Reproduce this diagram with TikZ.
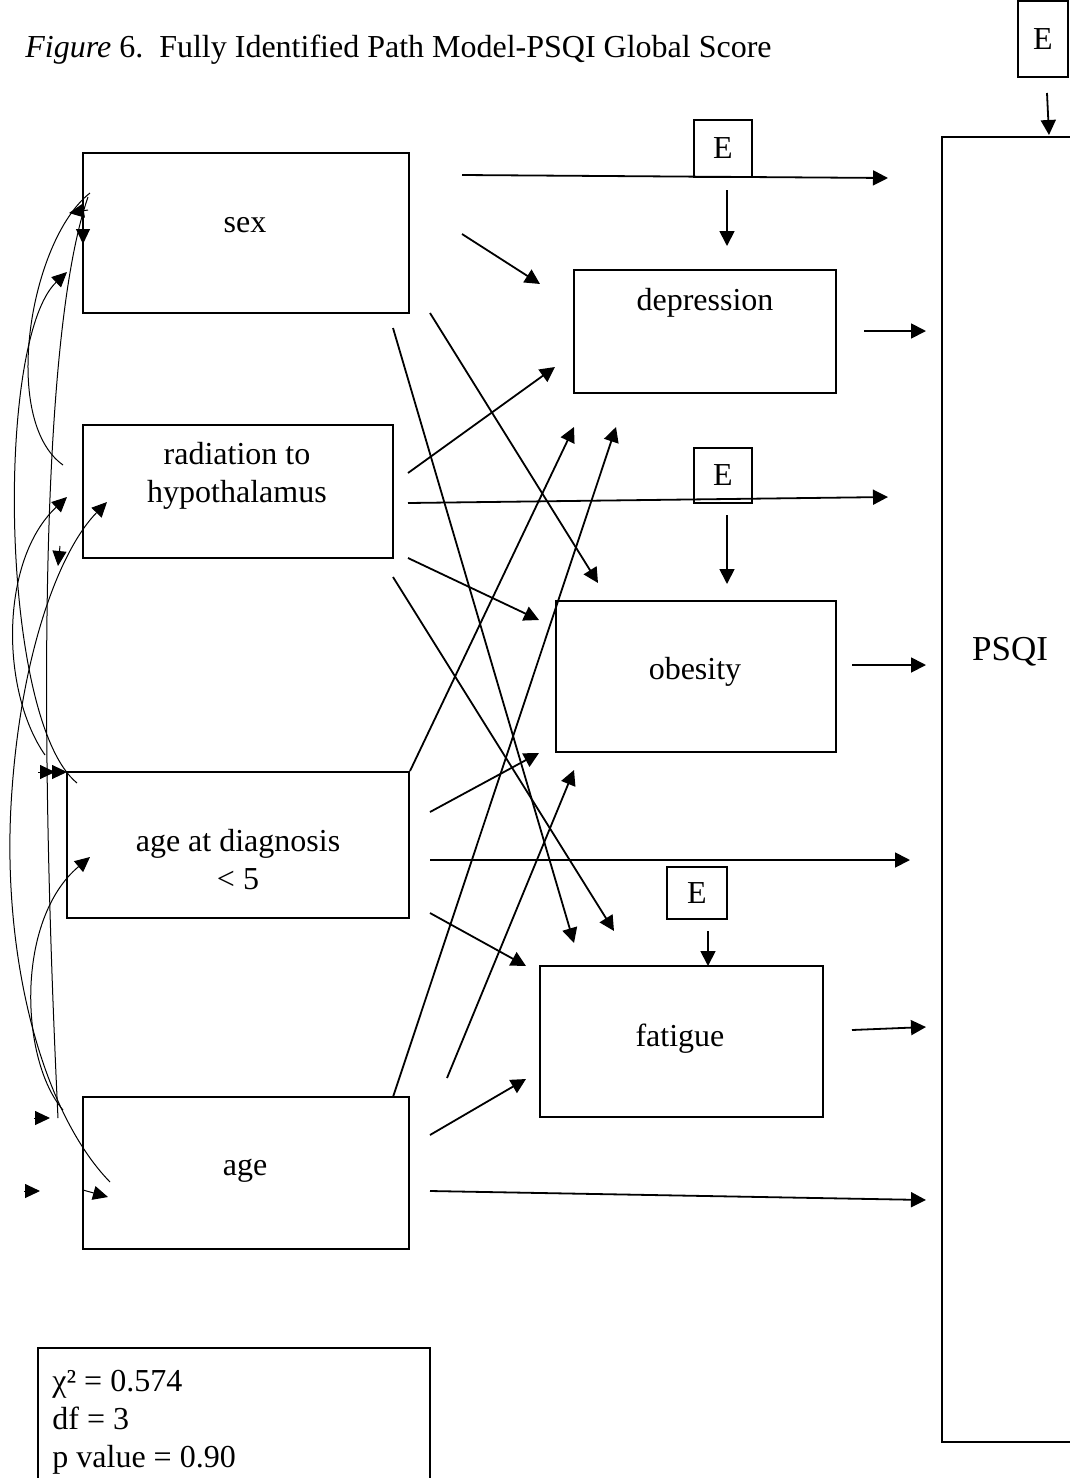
\documentclass[tikz,border=0pt]{standalone}
\usepackage{fontspec}
\setmainfont{Liberation Serif}
\usetikzlibrary{arrows.meta}

\begin{document}
\begin{tikzpicture}[x=0.5pt,y=-0.5pt,
  font=\fontsize{16}{19}\selectfont,
  box/.style={draw, line width=1pt, inner sep=0pt},
  lbl/.style={inner sep=0pt, align=center},
  arr/.style={line width=0.9pt, -{Triangle[length=7.5pt,width=7.5pt]}},
  corr/.style={line width=0.5pt},
  corrarr/.style={line width=0.5pt, -{Triangle[length=7.5pt,width=7pt]}}]
\useasboundingbox (0,0) rectangle (1070,1478);

% title
\node[anchor=west, inner sep=0pt] (title) at (25,50) {\textit{Figure} 6.\ \ Fully Identified Path Model-PSQI Global Score};

% exogenous variables
\node[box, minimum width=163pt, minimum height=80pt]   (sex)   at (246,233)   {};
\node[box, minimum width=155pt, minimum height=66.5pt] (rad)   at (238,491.5) {};
\node[box, minimum width=171pt, minimum height=73pt]   (agedx) at (238,845)   {};
\node[box, minimum width=163pt, minimum height=76pt]   (age)   at (246,1173)  {};
\node[lbl] (sexlbl)   at (245,225)  {sex};
\node[lbl] (radlbl)   at (237,476)  {radiation to\\hypothalamus};
\node[lbl] (agedxlbl) at (238,860)  {age at diagnosis\\< 5};
\node[lbl] (agelbl)   at (245,1171) {age};

% mediators
\node[box, minimum width=131pt, minimum height=61.5pt]  (dep) at (705,331.5)  {};
\node[box, minimum width=140pt, minimum height=75.5pt]  (obe) at (696,676.5)  {};
\node[box, minimum width=141.5pt, minimum height=75.5pt] (fat) at (681.5,1041.5) {};
\node[lbl] (deplbl) at (705,303)  {depression};
\node[lbl] (obelbl) at (695,672)  {obesity};
\node[lbl] (fatlbl) at (680,1039) {fatigue};

% outcome (its right side runs past the page edge)
\node[box, minimum width=70pt, minimum height=652.5pt] (psqi) at (1012,789.5) {};
\node[lbl, font=\fontsize{17.5}{20}\selectfont] (psqilbl) at (1010,652) {PSQI};

% error terms
\node[box, minimum width=29pt, minimum height=28.5pt] (e1) at (723,148.5) {E};
\node[box, minimum width=29pt, minimum height=27.5pt] (e2) at (723,475.5) {E};
\node[box, minimum width=30pt, minimum height=26pt]   (e3) at (697,893)   {E};
\node[box, minimum width=25pt, minimum height=38pt]   (e4) at (1043,39)   {E};

% fit statistics
\node[box, minimum width=196pt, minimum height=71pt] (fit) at (234,1419) {};
\node[anchor=north west, inner sep=0pt, align=left] (fitlbl) at (52,1370)
  {χ² = 0.574\\df = 3\\p value = 0.90};

% ---- path coordinates
\coordinate (a1s) at (462,175);  \coordinate (a1e) at (888,178);
\coordinate (a2s) at (462,234);  \coordinate (a2e) at (540,284);
\coordinate (a3s) at (430,313);  \coordinate (a3e) at (598,583);
\coordinate (a4s) at (393,328);  \coordinate (a4e) at (574,943);
\coordinate (a5s) at (408,473);  \coordinate (a5e) at (555,367);
\coordinate (a6s) at (408,503);  \coordinate (a6e) at (888,497);
\coordinate (a7s) at (408,558);  \coordinate (a7e) at (539,620);
\coordinate (a8s) at (393,577);  \coordinate (a8e) at (614,931);
\coordinate (a9e) at (574,427);
\coordinate (a10s) at (430,812); \coordinate (a10e) at (539,753);
\coordinate (a11s) at (430,860); \coordinate (a11e) at (910,860);
\coordinate (a12s) at (430,913); \coordinate (a12e) at (526,966);
\coordinate (a13s) at (393,1097);\coordinate (a13e) at (616,427);
\coordinate (a14s) at (447,1078);\coordinate (a14e) at (574,770);
\coordinate (a15s) at (430,1135);\coordinate (a15e) at (526,1079);
\coordinate (a16s) at (430,1191);\coordinate (a16e) at (926,1200);
\coordinate (m1s) at (864,331);  \coordinate (m1e) at (926,331);
\coordinate (m2s) at (852,665);  \coordinate (m2e) at (926,665);
\coordinate (m3s) at (852,1030); \coordinate (m3e) at (926,1027);
\coordinate (e1s) at (727,190);  \coordinate (e1e) at (727,246);
\coordinate (e2s) at (727,515);  \coordinate (e2e) at (727,584);
\coordinate (e3s) at (708,931);  \coordinate (e3e) at (708,966);
\coordinate (e4s) at (1047,93);  \coordinate (e4e) at (1049,135);

% ---- structural paths
\draw[arr] (a1s) -- (a1e);
\draw[arr] (a2s) -- (a2e);
\draw[arr] (a3s) -- (a3e);
\draw[arr] (a4s) -- (a4e);
\draw[arr] (a5s) -- (a5e);
\draw[arr] (a6s) -- (a6e);
\draw[arr] (a7s) -- (a7e);
\draw[arr] (a8s) -- (a8e);
\draw[arr] (agedx.north east) -- (a9e);
\draw[arr] (a10s) -- (a10e);
\draw[arr] (a11s) -- (a11e);
\draw[arr] (a12s) -- (a12e);
\draw[arr] (a13s) -- (a13e);
\draw[arr] (a14s) -- (a14e);
\draw[arr] (a15s) -- (a15e);
\draw[arr] (a16s) -- (a16e);
\draw[arr] (m1s) -- (m1e);
\draw[arr] (m2s) -- (m2e);
\draw[arr] (m3s) -- (m3e);
\draw[arr] (e1s) -- (e1e);
\draw[arr] (e2s) -- (e2e);
\draw[arr] (e3s) -- (e3e);
\draw[arr] (e4s) -- (e4e);

% ---- correlations among the exogenous variables
\coordinate (c1s) at (90,193);   \coordinate (c1e) at (63,465);
\coordinate (c2s) at (77,783);   \coordinate (c2e) at (67,272);
\coordinate (c3s) at (58,1118);  \coordinate (c3e) at (88,197);
\coordinate (c4s) at (110,1182); \coordinate (c4m) at (12,790); \coordinate (c4e) at (107,502);
\coordinate (c5s) at (45,755);   \coordinate (c5e) at (67,497);
\coordinate (c6s) at (63,1110);  \coordinate (c6e) at (90,857);

\draw[corr] (c1s) .. controls (30,240) and (0,420) .. (c1e);
\draw[corrarr] (c2s) .. controls (0,720) and (-5,340) .. (c2e);
\draw[corr] (c3s) .. controls (38,700) and (42,330) .. (c3e);
\draw[corrarr] (c4s) .. controls (40,1110) and (0,950) .. (c4m)
                     .. controls (22,650) and (60,550) .. (c4e);
\draw[corrarr] (c5s) .. controls (0,690) and (0,560) .. (c5e);
\draw[corrarr] (c6s) .. controls (20,1060) and (15,920) .. (c6e);

% loose arrowheads along the correlation bundle
\coordinate (h1s) at (88,210);  \coordinate (h1e) at (69,213);
\coordinate (h2s) at (83,226);  \coordinate (h2e) at (83,244);
\coordinate (h3s) at (60,546);  \coordinate (h3e) at (58,566);
\coordinate (h4s) at (38,772);  \coordinate (h4e) at (55,772);
\coordinate (h5s) at (50,772);  \coordinate (h5e) at (67,772);
\coordinate (h6s) at (34,1118); \coordinate (h6e) at (50,1118);
\coordinate (h7s) at (24,1191); \coordinate (h7e) at (40,1191);
\coordinate (h8s) at (83,1190); \coordinate (h8e) at (108,1197);
\draw[corrarr] (h1s) -- (h1e);
\draw[corrarr] (h2s) -- (h2e);
\draw[corrarr] (h3s) -- (h3e);
\draw[corrarr] (h4s) -- (h4e);
\draw[corrarr] (h5s) -- (h5e);
\draw[corrarr] (h6s) -- (h6e);
\draw[corrarr] (h7s) -- (h7e);
\draw[corrarr] (h8s) -- (h8e);
\end{tikzpicture}
\end{document}
